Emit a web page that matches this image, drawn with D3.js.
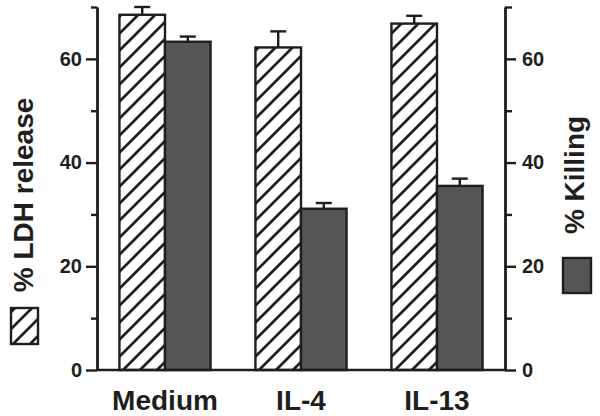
<!DOCTYPE html>
<html>
<head>
<meta charset="utf-8">
<script src="https://cdn.jsdelivr.net/npm/d3@7"></script>
<style>
  body { margin: 0; background: #fff; }
  text { font-family: "Liberation Sans", Arial, sans-serif; font-weight: bold; fill: #1e1e1e; }
</style>
</head>
<body>
<svg id="chart" width="600" height="416"></svg>
<script>
// groups on the x axis
var groups = ["Medium", "IL-4", "IL-13"];
// % LDH release (hatched bars) and its error
var ldh = [68.5, 62.2, 66.8];
var ldhErr = [1.5, 3.1, 1.5];
// % Killing (dark bars) and its error
var killing = [63.3, 31.1, 35.5];
var killingErr = [1.0, 1.1, 1.4];
var majorTicks = [0, 20, 40, 60];
var minorTicks = [10, 30, 50, 70];

var svg = d3.select("#chart");
var ink = "#1e1e1e";
var darkFill = "#555555";

var x = d3.scaleBand().domain(groups).range([97, 505]).paddingInner(0.33).paddingOuter(0.165);
var y = d3.scaleLinear().domain([0, 70]).range([370, 7]);

// hatch pattern
var hs = 17;
var defs = svg.append("defs");
var pat = defs.append("pattern")
    .attr("id", "hatch")
    .attr("patternUnits", "userSpaceOnUse")
    .attr("width", hs).attr("height", hs);
pat.append("rect").attr("width", hs).attr("height", hs).attr("fill", "#fff");
pat.append("path")
    .attr("d", "M-3," + (hs + 3) + " L" + (hs + 3) + ",-3 M-3,3 L3,-3 M" + (hs - 3) + "," + (hs + 3) + " L" + (hs + 3) + "," + (hs - 3))
    .attr("stroke", ink).attr("stroke-width", 2.7);

var bw = x.bandwidth() / 2;

var series = [
    {vals: ldh, err: ldhErr, off: 0, fill: "url(#hatch)"},
    {vals: killing, err: killingErr, off: bw, fill: darkFill}
];

series.forEach(function(s) {
    var g = svg.append("g");
    // error bars first so the bar border covers the stem bottom
    g.selectAll("line.stem").data(groups).enter().append("line")
        .attr("x1", function(d) { return x(d) + s.off + bw / 2; })
        .attr("x2", function(d) { return x(d) + s.off + bw / 2; })
        .attr("y1", function(d, i) { return y(s.vals[i]); })
        .attr("y2", function(d, i) { return y(s.vals[i] + s.err[i]); })
        .attr("stroke", ink).attr("stroke-width", 2.4);
    g.selectAll("line.cap").data(groups).enter().append("line")
        .attr("x1", function(d) { return x(d) + s.off + bw / 2 - 8; })
        .attr("x2", function(d) { return x(d) + s.off + bw / 2 + 8; })
        .attr("y1", function(d, i) { return y(s.vals[i] + s.err[i]); })
        .attr("y2", function(d, i) { return y(s.vals[i] + s.err[i]); })
        .attr("stroke", ink).attr("stroke-width", 2.4);
    g.selectAll("rect").data(groups).enter().append("rect")
        .attr("x", function(d) { return x(d) + s.off; })
        .attr("y", function(d, i) { return y(s.vals[i]); })
        .attr("width", bw)
        .attr("height", function(d, i) { return y(0) - y(s.vals[i]); })
        .attr("fill", s.fill)
        .attr("stroke", ink).attr("stroke-width", 2.4);
});

// axes
function styleAxis(g) {
    g.selectAll("path, line").attr("stroke", ink).attr("stroke-width", 2.4);
    g.selectAll("text").attr("font-size", "20px").attr("fill", ink)
        .attr("font-family", "'Liberation Sans', Arial, sans-serif").attr("font-weight", "bold");
}

var leftMajor = svg.append("g").attr("transform", "translate(97,0)")
    .call(d3.axisLeft(y).tickValues(majorTicks).tickSize(11).tickSizeOuter(0).tickPadding(4));
var leftMinor = svg.append("g").attr("transform", "translate(97,0)")
    .call(d3.axisLeft(y).tickValues(minorTicks).tickSize(6).tickSizeOuter(0).tickFormat(""));
var rightMajor = svg.append("g").attr("transform", "translate(505,0)")
    .call(d3.axisRight(y).tickValues(majorTicks).tickSize(11).tickSizeOuter(0).tickPadding(6));
var rightMinor = svg.append("g").attr("transform", "translate(505,0)")
    .call(d3.axisRight(y).tickValues(minorTicks).tickSize(7).tickSizeOuter(0).tickFormat(""));
[leftMajor, leftMinor, rightMajor, rightMinor].forEach(styleAxis);

// x baseline
svg.append("line").attr("x1", 97).attr("x2", 505).attr("y1", y(0)).attr("y2", y(0))
    .attr("stroke", ink).attr("stroke-width", 2.4);

// x labels
svg.selectAll("text.xlab").data(groups).enter().append("text")
    .attr("class", "xlab")
    .attr("x", function(d) { return x(d) + x.bandwidth() / 2; })
    .attr("y", 410)
    .attr("text-anchor", "middle")
    .attr("font-size", "28px")
    .text(function(d) { return d; });

// axis titles
svg.append("text")
    .attr("transform", "translate(33,195) rotate(-90)")
    .attr("text-anchor", "middle")
    .attr("font-size", "28px")
    .text("% LDH release");
svg.append("text")
    .attr("transform", "translate(584,175) rotate(-90)")
    .attr("text-anchor", "middle")
    .attr("font-size", "28px")
    .text("% Killing");

// legend swatches
svg.append("rect").attr("x", 11).attr("y", 308).attr("width", 27).attr("height", 36)
    .attr("fill", "url(#hatch)").attr("stroke", ink).attr("stroke-width", 2.4);
svg.append("rect").attr("x", 563).attr("y", 258).attr("width", 28).attr("height", 35)
    .attr("fill", darkFill).attr("stroke", ink).attr("stroke-width", 2.4);
</script>
</body>
</html>
